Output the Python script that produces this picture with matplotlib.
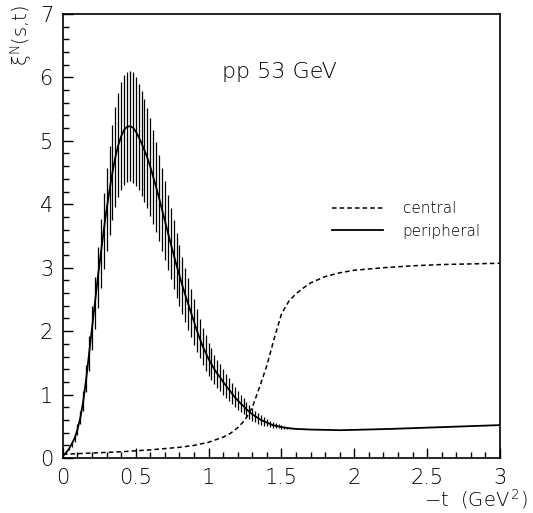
import numpy as np
import matplotlib
matplotlib.use("Agg")
import matplotlib.pyplot as plt
from matplotlib.ticker import MultipleLocator

# peripheral curve (histogram, 0.02 GeV^2 bins) with its error bars
t_per = [0.00, 0.02, 0.04, 0.06, 0.08, 0.10, 0.12, 0.14, 0.16, 0.18,
         0.20, 0.22, 0.24, 0.26, 0.28, 0.30, 0.32, 0.34, 0.36, 0.38,
         0.40, 0.42, 0.44, 0.46, 0.48, 0.50, 0.52, 0.54, 0.56, 0.58,
         0.60, 0.62, 0.64, 0.66, 0.68, 0.70, 0.72, 0.74, 0.76, 0.78,
         0.80, 0.82, 0.84, 0.86, 0.88, 0.90, 0.92, 0.94, 0.96, 0.98,
         1.00, 1.02, 1.04, 1.06, 1.08, 1.10, 1.12, 1.14, 1.16, 1.18,
         1.20, 1.22, 1.24, 1.26, 1.28, 1.30, 1.32, 1.34, 1.36, 1.38,
         1.40, 1.42, 1.44, 1.46, 1.48, 1.50, 1.52, 1.54, 1.56, 1.58,
         1.60, 1.70, 1.80, 1.90, 2.00, 2.25, 2.50, 2.75, 3.00]
xi_per = [0.03, 0.08, 0.14, 0.22, 0.31, 0.45, 0.64, 0.90, 1.25, 1.65,
          2.05, 2.45, 2.85, 3.22, 3.58, 3.92, 4.22, 4.50, 4.74, 4.93,
          5.07, 5.17, 5.22, 5.23, 5.21, 5.15, 5.06, 4.96, 4.85, 4.73,
          4.59, 4.43, 4.27, 4.10, 3.92, 3.74, 3.56, 3.38, 3.21, 3.04,
          2.88, 2.72, 2.57, 2.43, 2.29, 2.15, 2.01, 1.88, 1.76, 1.66,
          1.56, 1.48, 1.40, 1.33, 1.27, 1.20, 1.14, 1.08, 1.02, 0.96,
          0.91, 0.86, 0.82, 0.77, 0.73, 0.69, 0.66, 0.63, 0.60, 0.58,
          0.56, 0.54, 0.52, 0.51, 0.50, 0.49, 0.48, 0.475, 0.47, 0.465,
          0.46, 0.45, 0.445, 0.44, 0.445, 0.46, 0.48, 0.50, 0.52]
err_per = [0.00, 0.01, 0.02, 0.04, 0.05, 0.08, 0.11, 0.15, 0.21, 0.28,
           0.34, 0.41, 0.48, 0.54, 0.60, 0.65, 0.70, 0.75, 0.79, 0.82,
           0.85, 0.86, 0.87, 0.87, 0.87, 0.86, 0.84, 0.83, 0.81, 0.79,
           0.77, 0.74, 0.71, 0.68, 0.65, 0.62, 0.59, 0.56, 0.54, 0.51,
           0.48, 0.45, 0.43, 0.41, 0.38, 0.36, 0.34, 0.31, 0.29, 0.28,
           0.26, 0.25, 0.23, 0.22, 0.21, 0.20, 0.19, 0.18, 0.17, 0.16,
           0.15, 0.14, 0.13, 0.12, 0.11, 0.10, 0.09, 0.085, 0.08, 0.07,
           0.06, 0.05, 0.045, 0.04, 0.03, 0.025, 0.02, 0.015, 0.01, 0.01,
           0.0, 0.0, 0.0, 0.0, 0.0, 0.0, 0.0, 0.0, 0.0]

# central curve
t_cen = [0.0, 0.2, 0.4, 0.6, 0.8, 0.9, 1.0, 1.1, 1.15, 1.2, 1.25, 1.3,
         1.35, 1.4, 1.45, 1.5, 1.55, 1.6, 1.65, 1.7, 1.8, 1.9, 2.0, 2.2,
         2.4, 2.6, 2.8, 3.0]
xi_cen = [0.06, 0.08, 0.10, 0.13, 0.17, 0.20, 0.25, 0.33, 0.39, 0.48, 0.60,
          0.80, 1.12, 1.46, 1.88, 2.27, 2.47, 2.59, 2.68, 2.76, 2.86, 2.92,
          2.96, 3.00, 3.03, 3.05, 3.06, 3.07]

plt.rcParams["font.family"] = "DejaVu Sans"
plt.rcParams["font.weight"] = "light"

fig = plt.figure(figsize=(5.33, 5.13), dpi=100)
ax = fig.add_axes([0.118, 0.107, 0.820, 0.866])

ax.errorbar(t_per, xi_per, yerr=err_per, fmt="none", ecolor="black",
            elinewidth=0.9, capsize=0)
ax.plot(t_per, xi_per, color="black", lw=1.3, label="peripheral")
ax.plot(t_cen, xi_cen, color="black", lw=1.1, ls=(0, (3, 2)), label="central")

ax.set_xlim(0, 3)
ax.set_ylim(0, 7)
ax.xaxis.set_major_locator(MultipleLocator(0.5))
ax.xaxis.set_minor_locator(MultipleLocator(0.1))
ax.yaxis.set_major_locator(MultipleLocator(1))
ax.yaxis.set_minor_locator(MultipleLocator(0.2))
ax.xaxis.set_major_formatter(matplotlib.ticker.FuncFormatter(lambda v, p: f"{v:g}"))
ax.tick_params(which="both", direction="in", top=False, right=False,
               labelsize=15, width=1)
ax.tick_params(which="major", length=7, pad=7)
ax.tick_params(which="minor", length=4)
for s in ax.spines.values():
    s.set_linewidth(1.2)

ax.text(1.09, 6.09, "pp 53 GeV", fontsize=16, va="center", ha="left")

fig.text(0.040, 0.99, "\u03be$^{\\rm N}$(s,t)", rotation=90, fontsize=14,
         ha="center", va="top")
fig.text(0.99, 0.004, "\u2212t  (GeV$^{\\,2}$)", fontsize=14, ha="right", va="bottom")

handles, labels = ax.get_legend_handles_labels()
ax.legend(handles[::-1], labels[::-1], frameon=False, fontsize=11,
          loc="upper left", bbox_to_anchor=(0.585, 0.61), handlelength=3.3,
          handletextpad=1.3, labelspacing=0.5)

fig.savefig("out.png", dpi=100)
